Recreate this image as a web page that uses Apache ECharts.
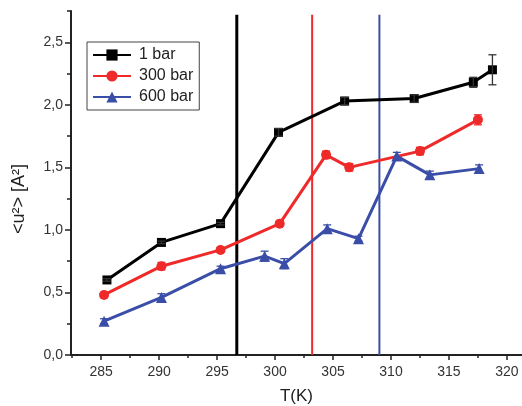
<!DOCTYPE html>
<html>
<head>
<meta charset="utf-8">
<script src="https://cdn.jsdelivr.net/npm/echarts@6/dist/echarts.min.js"></script>
<style>
    html, body { margin: 0; padding: 0; background: #fff; }
    #chart { width: 522px; height: 406px; }
</style>
</head>
<body>
<div id="chart"></div>
<script>
    // 1 bar
    var tempBlack = [285.5, 290.2, 295.3, 300.3, 306.0, 312.0, 317.1, 318.75];
    var u2Black = [0.60, 0.90, 1.05, 1.78, 2.03, 2.05, 2.18, 2.28];
    var errBlack = [0.01, 0.01, 0.01, 0.03, 0.03, 0.03, 0.04, 0.12];
    // 300 bar
    var tempRed = [285.25, 290.2, 295.3, 300.4, 304.4, 306.4, 312.5, 317.5];
    var u2Red = [0.48, 0.71, 0.84, 1.05, 1.60, 1.50, 1.63, 1.88];
    var errRed = [0.02, 0.03, 0.02, 0.02, 0.03, 0.03, 0.03, 0.04];
    // 600 bar
    var tempBlue = [285.25, 290.2, 295.3, 299.1, 300.8, 304.5, 307.2, 310.5, 313.35, 317.6];
    var u2Blue = [0.27, 0.46, 0.69, 0.79, 0.73, 1.01, 0.93, 1.59, 1.44, 1.49];
    var errBlue = [0.02, 0.03, 0.02, 0.04, 0.04, 0.03, 0.02, 0.03, 0.03, 0.03];

    // transition temperatures (vertical lines)
    var transitionT = [296.7, 303.2, 309.0];
    var lineTop = 2.72;

    var xMajorTicks = [285, 290, 295, 300, 305, 310, 315, 320];
    var xMinorTicks = [282.5, 287.5, 292.5, 297.5, 302.5, 307.5, 312.5, 317.5];
    var yMajorTicks = [0, 0.5, 1.0, 1.5, 2.0, 2.5];
    var yMinorTicks = [0.25, 0.75, 1.25, 1.75, 2.25, 2.75];

    var seriesNames = ['1 bar', '300 bar', '600 bar'];
    var colors = ['#000000', '#ee2a2a', '#3a4ea8'];
    var symbols = ['rect', 'circle', 'triangle'];
    var symbolSizes = [9, 10, 11];

    var TEXT_FONT = 'Liberation Sans, Arial, sans-serif';

    function pairs(xs, ys) {
        return xs.map((x, i) => [x, ys[i]]);
    }
    function triples(xs, ys, es) {
        return xs.map((x, i) => [x, ys[i], es[i]]);
    }

    function errorBar(color) {
        return function (params, api) {
            var x = api.value(0), y = api.value(1), e = api.value(2);
            var hi = api.coord([x, y + e]);
            var lo = api.coord([x, y - e]);
            var w = 4;
            var style = { stroke: color, lineWidth: 1.3 };
            return {
                type: 'group',
                children: [
                    { type: 'line', shape: { x1: hi[0], y1: hi[1], x2: lo[0], y2: lo[1] }, style: style },
                    { type: 'line', shape: { x1: hi[0] - w, y1: hi[1], x2: hi[0] + w, y2: hi[1] }, style: style },
                    { type: 'line', shape: { x1: lo[0] - w, y1: lo[1], x2: lo[0] + w, y2: lo[1] }, style: style }
                ]
            };
        };
    }

    var groups = [
        [tempBlack, u2Black, errBlack],
        [tempRed, u2Red, errRed],
        [tempBlue, u2Blue, errBlue]
    ];

    var series = [];
    groups.forEach((g, i) => {
        series.push({
            name: seriesNames[i],
            type: 'line',
            data: pairs(g[0], g[1]),
            symbol: symbols[i],
            symbolSize: symbolSizes[i],
            showAllSymbol: true,
            lineStyle: { color: colors[i], width: 3 },
            itemStyle: { color: colors[i] },
            z: 4
        });
        series.push({
            type: 'custom',
            data: triples(g[0], g[1], g[2]),
            renderItem: errorBar(i === 0 ? '#333' : colors[i]),
            z: 5,
            silent: true
        });
    });

    transitionT.forEach((t, i) => {
        series.push({
            type: 'line',
            data: [[t, 0], [t, lineTop]],
            symbol: 'none',
            lineStyle: { color: colors[i], width: i === 0 ? 3 : 2 },
            z: 3,
            silent: true
        });
    });

    var axisLabelStyle = { fontFamily: TEXT_FONT, fontSize: 14, color: '#333' };

    var option = {
        animation: false,
        grid: { left: 71, right: 0, top: 11, bottom: 51, containLabel: false, outerBoundsMode: 'none' },
        legend: {
            data: seriesNames,
            orient: 'vertical',
            left: 87,
            top: 42,
            padding: [5, 6, 5, 5],
            itemWidth: 38,
            itemHeight: 14,
            itemGap: 5,
            borderColor: '#444',
            borderWidth: 1,
            borderRadius: 0,
            textStyle: { fontFamily: TEXT_FONT, fontSize: 16, color: '#222', padding: [0, 0, 0, 3] }
        },
        xAxis: [{
            type: 'value',
            min: 282.4,
            max: 321.3,
            name: 'T(K)',
            nameLocation: 'middle',
            nameGap: 33,
            nameTextStyle: { fontFamily: TEXT_FONT, fontSize: 17, color: '#222' },
            axisLine: { onZero: false, lineStyle: { color: '#222', width: 2 } },
            axisTick: { inside: false, length: 5, customValues: xMajorTicks, lineStyle: { color: '#222', width: 1.5 } },
            axisLabel: Object.assign({ customValues: xMajorTicks, margin: 10 }, axisLabelStyle),
            splitLine: { show: false }
        }, {
            type: 'value',
            position: 'bottom',
            min: 282.4,
            max: 321.3,
            axisLine: { show: false },
            axisTick: { length: 3, customValues: xMinorTicks, lineStyle: { color: '#222', width: 1.5 } },
            axisLabel: { show: false },
            splitLine: { show: false }
        }],
        yAxis: [{
            type: 'value',
            min: 0,
            max: 2.75,
            name: '<u²> [A²]',
            nameLocation: 'middle',
            nameGap: 43,
            nameTextStyle: { fontFamily: TEXT_FONT, fontSize: 18, color: '#222', padding: [0, 32, 0, 0] },
            axisLine: { onZero: false, lineStyle: { color: '#222', width: 2 } },
            axisTick: { length: 6, customValues: yMajorTicks, lineStyle: { color: '#222', width: 1.5 } },
            axisLabel: Object.assign({
                customValues: yMajorTicks,
                margin: 8,
                formatter: v => v.toFixed(1).replace('.', ',')
            }, axisLabelStyle),
            splitLine: { show: false }
        }, {
            type: 'value',
            position: 'left',
            min: 0,
            max: 2.75,
            axisLine: { show: false },
            axisTick: { length: 4, customValues: yMinorTicks, lineStyle: { color: '#222', width: 1.5 } },
            axisLabel: { show: false },
            splitLine: { show: false }
        }],
        series: series
    };

    var chart = echarts.init(document.getElementById('chart'));
    chart.setOption(option);
</script>
</body>
</html>
